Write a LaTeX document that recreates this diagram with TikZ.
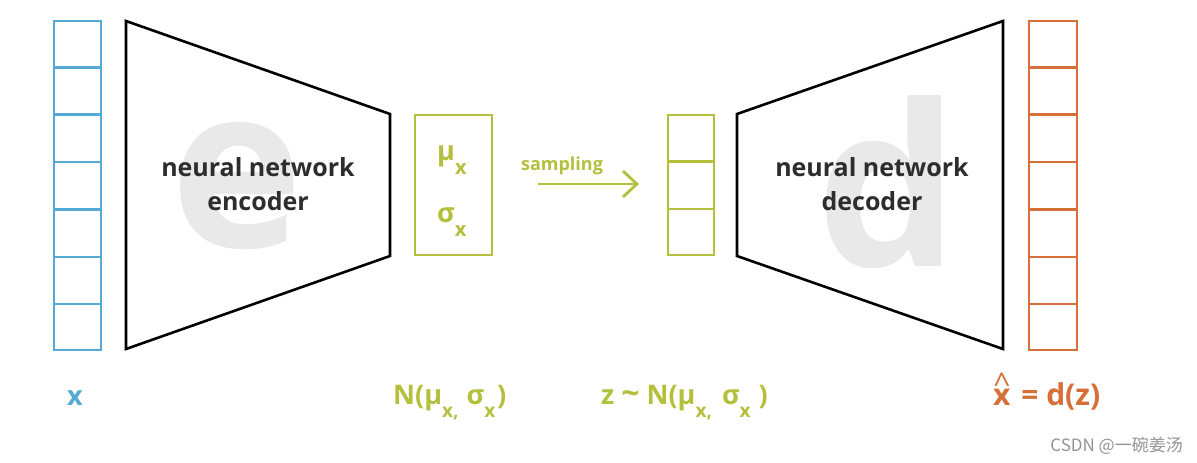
\documentclass[tikz,border=0pt]{standalone}
\usepackage{fontspec}
\setmainfont{Open Sans}
\newfontfamily\cjk{Noto Sans CJK SC}
\usetikzlibrary{arrows.meta,calc}
\definecolor{cblue}{RGB}{84,170,212}
\definecolor{cgreen}{RGB}{180,192,60}
\definecolor{corange}{RGB}{214,112,56}
\definecolor{wmgray}{RGB}{233,233,233}
\definecolor{txtdark}{RGB}{45,45,45}
\newcommand\sbx[3]{\raisebox{-#2pt}{\fontsize{#1}{#1}\selectfont #3}}
\newcommand\hatx{\setbox0\hbox{x}\rlap{\hbox to \wd0{\hss\raisebox{11pt}{\fontsize{30}{30}\selectfont\mdseries\textasciicircum}\hss}}x}
\begin{document}
\begin{tikzpicture}[x=1pt,y=-1pt,
  trap/.style={draw=black, line width=2.6pt, line join=miter},
  cellbox/.style={line width=2.4pt, inner sep=0pt, anchor=north west},
  cellline/.style={line width=2.4pt},
  wmark/.style={text=wmgray, font=\fontsize{225}{225}\selectfont\bfseries, inner sep=0pt, anchor=base},
  nntext/.style={font=\fontsize{25}{34}\selectfont\bfseries, align=center, text=txtdark, inner sep=0pt},
  lbl/.style={font=\fontsize{27}{30}\selectfont\bfseries, anchor=base west, inner sep=0pt},
  inbox/.style={font=\fontsize{27}{30}\selectfont\bfseries, anchor=base west, inner sep=0pt, text=cgreen}]
\useasboundingbox (0,0) rectangle (1197,463);
\fill[white] (0,0) rectangle (1197,463);

% input column
\node[cellbox, draw=cblue, minimum width=47pt, minimum height=329pt] (xin) at (53,20) {};
\foreach \i in {1,...,6}
  \draw[cellline, cblue] ($(xin.north west)!\i/7!(xin.south west)$) -- ($(xin.north east)!\i/7!(xin.south east)$);

% encoder
\node[wmark] (we) at (237,247) {e};
\draw[trap] (126,21) -- (390,114) -- (390,256) -- (126,349) -- cycle;
\node[nntext] (enc) at (258,184) {neural network\\encoder};

% mu sigma box
\node[cellbox, draw=cgreen, minimum width=77pt, minimum height=140pt] (ms) at (414,114) {};
\node[inbox] (mu) at (437,160) {μ\sbx{20}{14}{x}};
\node[inbox] (sg) at (437,222) {σ\sbx{20}{14}{x}};

% sampling arrow
\coordinate (sa) at (538,184);
\coordinate (sb) at (639,184);
\draw[cgreen, line width=2.8pt, -{Straight Barb[length=14pt,width=26pt]}] (sa) -- (sb);
\node[font=\fontsize{18}{18}\selectfont\bfseries, text=cgreen, anchor=base, inner sep=0pt] (samp) at (562,170) {sampling};

% z column
\node[cellbox, draw=cgreen, minimum width=46pt, minimum height=140pt] (zc) at (667,114) {};
\foreach \i in {1,2}
  \draw[cellline, cgreen] ($(zc.north west)!\i/3!(zc.south west)$) -- ($(zc.north east)!\i/3!(zc.south east)$);

% decoder
\node[wmark] (wd) at (888,266) {d};
\draw[trap] (737,114) -- (1003,21) -- (1003,349) -- (737,256) -- cycle;
\node[nntext] (dec) at (872,184) {neural network\\decoder};

% output column
\node[cellbox, draw=corange, minimum width=48pt, minimum height=329pt] (xo) at (1028,20) {};
\foreach \i in {1,...,6}
  \draw[cellline, corange] ($(xo.north west)!\i/7!(xo.south west)$) -- ($(xo.north east)!\i/7!(xo.south east)$);

% labels
\node[lbl, text=cblue] (lx) at (67,405) {x};
\node[lbl, text=cgreen] (ln) at (393,404) {N(μ\sbx{19}{13}{x,}\hspace{8pt}σ\sbx{19}{13}{x}\hspace{2pt})};
\node[lbl, text=cgreen] (lz) at (601,404) {z\hspace{7pt}{\fontsize{32}{32}\selectfont\textasciitilde}\hspace{7pt}N(μ\sbx{19}{13}{x,}\hspace{10pt}σ\sbx{19}{13}{x}\hspace{8pt})};
\node[lbl, text=corange, font=\fontsize{30}{30}\selectfont\bfseries] (lxh) at (993,405) {\hatx\hspace{3pt} = d(z)};

\node[font=\cjk\fontsize{17}{17}\selectfont, text=black!42, anchor=base east, inner sep=0pt] (csdn) at (1183,451) {CSDN @一碗姜汤};
\end{tikzpicture}
\end{document}
